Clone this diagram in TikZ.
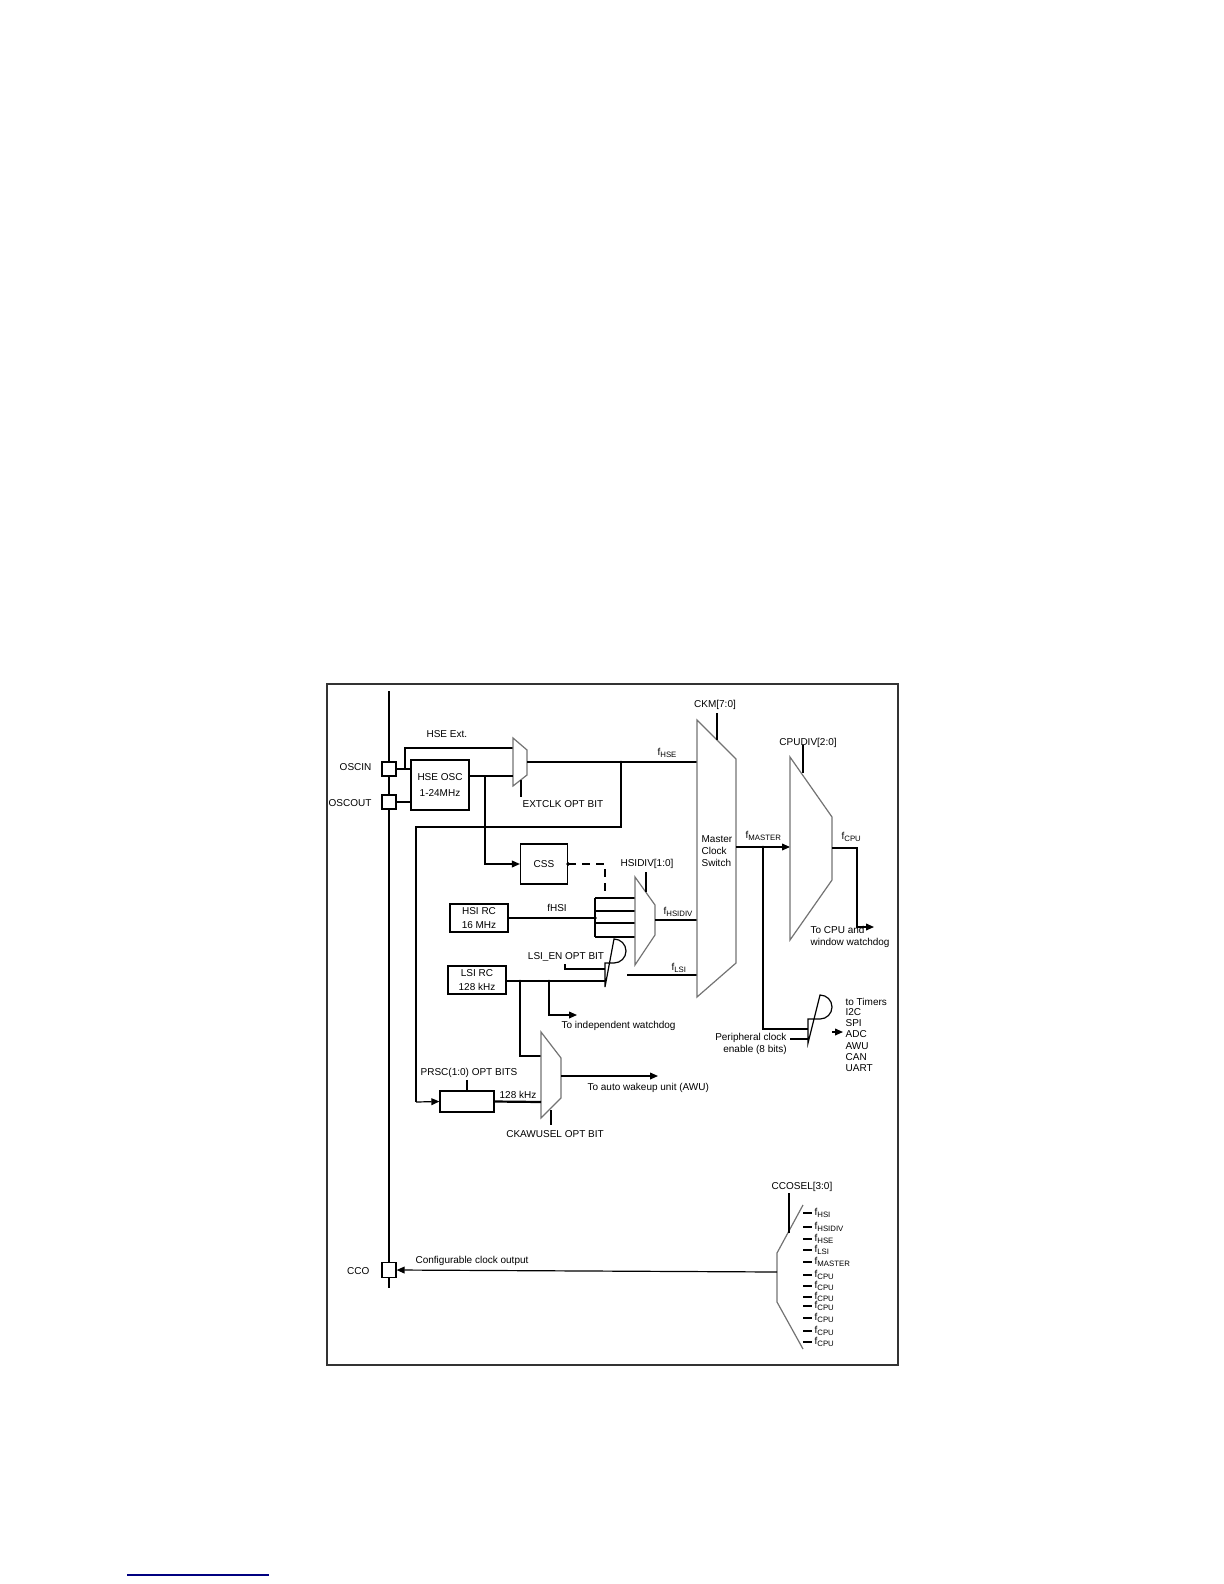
\documentclass[tikz,border=0pt]{standalone}
\usepackage{fontspec}
\setmainfont{Liberation Sans}
\usetikzlibrary{arrows.meta}
\newcommand\fq[1]{f\raisebox{-0.45ex}{\fontsize{3.9}{4}\selectfont #1}}
\begin{document}
\begin{tikzpicture}[x=0.5pt,y=-0.5pt,line width=0.6pt,
  every node/.style={font=\fontsize{5}{6}\selectfont,inner sep=0pt},
  blk/.style={draw,line width=0.6pt},
  mux/.style={draw=black!55,line width=0.6pt},
  arr/.style={-{Triangle[length=4pt,width=3.4pt]}},
  dot/.style={circle,fill,inner sep=0.7pt},
  lbl/.style={anchor=west}]
\useasboundingbox (0,0) rectangle (1224,1584);
% frame
\draw[line width=0.9pt,black!80] (327,684) rectangle (898,1365);
% link underline
\draw[blue!50!black,line width=0.7pt] (127,1575) -- (269,1575);
% bus
\coordinate (busT) at (389,691); \coordinate (busB) at (389,1288);
\draw (busT) -- (busB);
% pads
\node[blk,fill=white,minimum width=7pt,minimum height=7pt] (oscin) at (389,769) {};
\node[blk,fill=white,minimum width=7pt,minimum height=7pt] (oscout) at (389,802) {};
\node[blk,fill=white,minimum width=7pt,minimum height=7.5pt] (cco) at (389,1270) {};
\node[anchor=east] at (372,767) {OSCIN};
\node[anchor=east] at (372,803) {OSCOUT};
\node[anchor=east] at (370,1271) {CCO};
% HSE OSC
\node[blk,minimum width=29pt,minimum height=25pt,align=center] (hse) at (440,785) {HSE OSC\\[2pt]1-24MHz};
\draw (oscin.east) -- (hse.west|-oscin.east);
\draw (oscout.east) -- (hse.west|-oscout.east);
\coordinate (ext1) at (405,769); \coordinate (ext2) at (405,748);
\draw (ext1) -- (ext2) -- (513,748);
\node[lbl] at (426,734) {HSE Ext.};
% EXTCLK mux
\draw[mux] (513,738) -- (527,750) -- (527,775) -- (513,786) -- cycle;
\draw (hse.east|-0,776) -- (513,776);
\coordinate (extsel) at (521,797); \draw (521,780) -- (extsel);
\node[lbl] at (522,804) {EXTCLK OPT BIT};
% fHSE line
\coordinate (j1) at (621,762);
\draw (527,762) -- (697,762);
\node[dot,inner sep=0.5pt] at (j1) {};
\node[lbl] at (657,753) {\fq{HSE}};
\draw (j1) -- (621,827) -- (416,827) -- (416,1102);
% CSS
\node[blk,minimum width=23.5pt,minimum height=20pt] (css) at (544,864) {CSS};
\coordinate (b1) at (485,776);
\draw[arr] (b1) -- (485,864) -- (css.west);
\node[dot,inner sep=0.7pt] at (css.east) {};
\draw[dashed,dash pattern=on 4pt off 3pt] (css.east) -- (605,864) -- (605,898);
% HSI RC
\node[blk,minimum width=29pt,minimum height=14pt,align=center] (hsi) at (479,918) {HSI RC\\[1pt]16 MHz};
\draw (hsi.east) -- (595,918);
\node[dot,inner sep=0.7pt] (hj) at (595,918) {};
\node at (557,908) {fHSI};
\draw (595,898) -- (595,937);
\foreach \yy/\tt in {898//8,911//4,923//2,937//1}{
  \draw (595,\yy) -- (635,\yy);
  \node[lbl] at (639,\yy) {\tt};
}
% HSIDIV mux
\draw[mux] (635,877) -- (655,905) -- (655,935) -- (635,965) -- cycle;
\draw (646,872) -- (646,892);
\node at (647,864) {HSIDIV[1:0]};
\draw (655,920) -- (697,920);
\node[lbl] at (663,912) {\fq{HSIDIV}};
% LSI RC
\node[blk,minimum width=29pt,minimum height=14pt,align=center] (lsi) at (477,980) {LSI RC\\[1pt]128 kHz};
\draw (lsi.east|-0,981) -- (605,981);
\node[dot,inner sep=0.5pt] at (520,981) {};
\node[dot,inner sep=0.5pt] at (549,981) {};
% LSI AND
\draw (605,963) -- (614,963) arc[start angle=-90,end angle=90,radius=6pt] -- (605,987) -- cycle;
\draw (565,964) -- (565,969) -- (605,969);
\node at (566,957) {LSI\_EN OPT BIT};
\draw (627,975) -- (697,975);
\node[lbl] at (671,968) {\fq{LSI}};
\draw[arr] (549,981) -- (549,1015) -- (577,1015);
\node[lbl] at (561,1026) {To independent watchdog};
% CKAWUSEL mux
\draw (520,981) -- (520,1056) -- (541,1056);
\draw[mux] (541,1032) -- (561,1058) -- (561,1098) -- (541,1118) -- cycle;
\draw[arr] (561,1076) -- (658,1076);
\node[lbl] at (587,1088) {To auto wakeup unit (AWU)};
\draw (551,1110) -- (551,1125);
\node at (555,1134) {CKAWUSEL OPT BIT};
% PRSC
\node[blk,minimum width=27pt,minimum height=10.5pt] (prsc) at (467,1101.5) {};
\draw[arr] (416,1102) -- (prsc.west);
\draw[line width=1.1pt] (prsc.east) -- (541,1102);
\node at (518,1095) {128 kHz};
\draw (prsc.north) -- (467,1080);
\node at (469,1073) {PRSC(1:0) OPT BITS};
% Master clock switch
\draw[mux] (697,720) -- (736,759) -- (736,963) -- (697,997) -- cycle;
\draw (717,713) -- (717,740);
\node at (715,705) {CKM[7:0]};
\node[anchor=west,align=left] at (701,851) {Master\\Clock\\Switch};
% fMASTER
\draw[arr] (736,847) -- (790,847);
\node[lbl] at (745,836) {\fq{MASTER}};
\node[dot,inner sep=0.5pt] at (763,847) {};
\draw (763,847) -- (763,1029) -- (808,1029);
% CPUDIV mux
\draw[mux] (790,757) -- (832,817) -- (832,880) -- (790,940) -- cycle;
\draw (803,745) -- (803,773);
\node at (808,743) {CPUDIV[2:0]};
\foreach \yy/\tt in {788//1,804//2,820//4,836//8,852//16,868//32,883//64,900//128}{
  \node[lbl] at (795,\yy) {\tt};
}
\draw[arr] (832,848) -- (857,848) -- (857,927) -- (874,927);
\node[lbl] at (841,837) {\fq{CPU}};
\node[lbl,align=left] at (810,937) {To CPU and\\window watchdog};
% Peripheral AND
\draw (808,1019) -- (820,1019) arc[start angle=-90,end angle=90,radius=6pt] -- (808,1043) -- cycle;
\draw (790,1039) -- (808,1039);
\draw[arr] (832,1032) -- (843,1032);
\node[anchor=east] at (787,1038) {Peripheral clock};
\node at (755,1050) {enable (8 bits)};
\foreach \yy/\tt in {1002/to Timers,1012/I2C,1023/SPI,1034/ADC,1046/AWU,1057/CAN,1068/UART}{
  \node[lbl] at (845,\yy) {\tt};
}
% CCOSEL mux
\draw[mux] (803,1205) -- (777,1253) -- (777,1302) -- (803,1349);
\draw (789,1193) -- (789,1233);
\node at (802,1187) {CCOSEL[3:0]};
\draw[arr] (777,1272) -- (cco.east);
\node[lbl] at (415,1261) {Configurable clock output};
\foreach \yy/\tt in {1213/\fq{HSI},1227/\fq{HSIDIV},1239/\fq{HSE},1250/\fq{LSI},1262/\fq{MASTER},1275/\fq{CPU},1286/\fq{CPU}/2,1297/\fq{CPU}/4,1306/\fq{CPU}/8,1318/\fq{CPU}/16,1331/\fq{CPU}/32,1342/\fq{CPU}/64}{
  \draw (803,\yy) -- (812,\yy);
  \node[lbl] at (814,\yy) {\tt};
}
\end{tikzpicture}
\end{document}
